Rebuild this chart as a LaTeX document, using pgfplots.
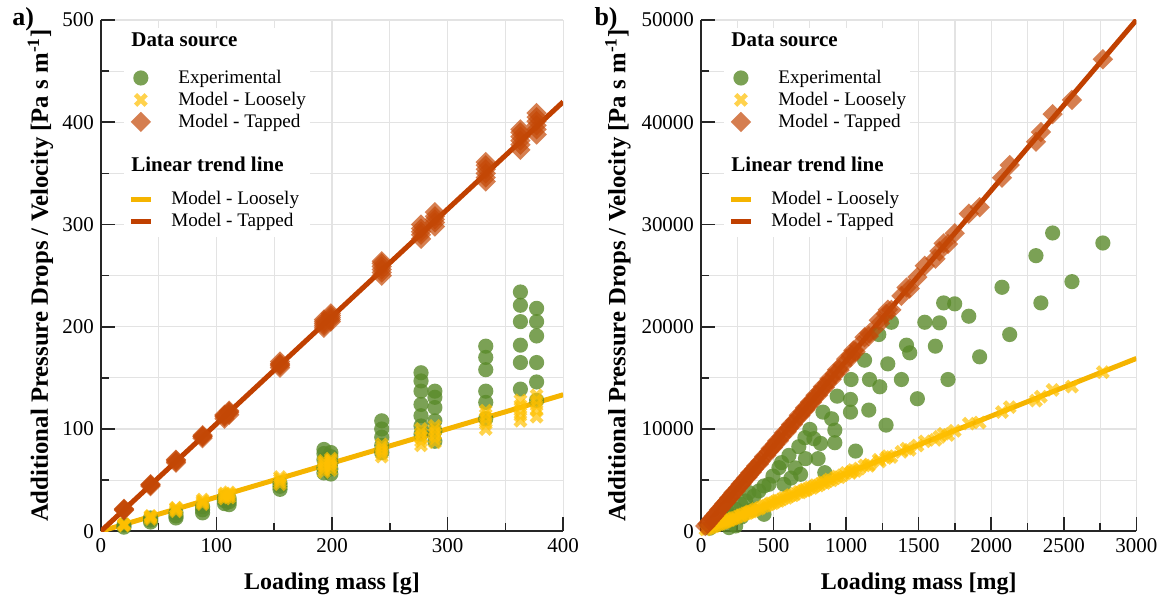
\documentclass[border=0pt]{standalone}
\usepackage{fontspec}
\setmainfont{Liberation Serif}
\usepackage{pgfplots}
\pgfplotsset{compat=1.18}

\definecolor{expgreen}{HTML}{5A8A2A}
\definecolor{loosefill}{HTML}{FFC000}
\definecolor{tapfill}{HTML}{C44806}
\definecolor{looseline}{HTML}{F5B400}
\definecolor{tapline}{HTML}{C04000}

% legend titles: the invisible path in the image sets the row height
\newcommand{\ltitle}[3]{%
  \addlegendimage{legend image code/.code={\path[draw=none,fill=none] (0pt,-#2) -- (0pt,#3);}}
  \addlegendentry{\hspace*{-23.5pt}\fontsize{10.5}{12}\selectfont\bfseries #1}}

\pgfplotsset{
  panel/.style={
    scale only axis, height=256pt,
    axis lines*=left,
    axis line style={black!85, line width=0.8pt},
    tick align=inside,
    major tick length=7pt, minor tick length=4pt,
    tick style={black!85, line width=0.8pt},
    minor tick num=1,
    grid=both,
    major grid style={gray!22, line width=0.6pt},
    minor grid style={gray!22, line width=0.6pt},
    scaled ticks=false,
    /pgf/number format/assume math mode=true,
    /pgf/number format/1000 sep={},
    xticklabel={\pgfmathprintnumber{\tick}},
    yticklabel={\pgfmathprintnumber{\tick}},
    tick label style={font=\fontsize{10.5}{12}\selectfont},
    xlabel style={font=\bfseries\fontsize{12}{14}\selectfont,
      at={(axis description cs:0.5,0)}, anchor=base, yshift=-29pt},
    ylabel style={font=\bfseries\fontsize{12.4}{14}\selectfont},
    legend cell align=left,
    legend style={draw=none, fill=white, inner sep=2pt, row sep=0pt,
      column sep=12.5pt, nodes={inner sep=0pt},
      font=\fontsize{9.6}{11}\selectfont, anchor=north west},
  },
  mkimg/.style={legend image code/.code={%
    \path[draw=none,fill=none] (5pt,-5.5pt) -- (5pt,5.5pt);
    \draw[##1] plot coordinates {(5pt,0pt)};}},
  expst/.style={only marks, mark=*, mark size=3.8pt, mkimg,
    mark options={draw=expgreen, fill=expgreen, draw opacity=0, fill opacity=0.8}},
  loosest/.style={only marks, mark=x, mark size=3.75pt, color=loosefill, mkimg,
    mark options={draw=loosefill, line width=2.3pt, draw opacity=0.7}},
  tapst/.style={only marks, mark=square*, mark size=3.6pt, mkimg,
    mark options={rotate=45, draw=tapfill, fill=tapfill, draw opacity=0, fill opacity=0.7}},
  trend/.style={no marks, line width=2.5pt,
    legend image code/.code={%
      \path[draw=none,fill=none] (0pt,-5.5pt) -- (0pt,5.5pt);
      \draw[##1] (0pt,0pt) -- (10pt,0pt);}},
}

\begin{document}
\begin{tikzpicture}
\path (-50.5pt,-35pt) rectangle (531.5pt,266pt);

% ---------------- a) loading mass in g
\begin{axis}[panel, width=231.5pt,
  xmin=0, xmax=400, ymin=0, ymax=500,
  xtick={0,100,...,400}, ytick={0,100,...,500},
  xlabel={Loading mass [g]},
  ylabel={Additional Pressure Drops / Velocity [Pa s m\textsuperscript{-1}]},
  ylabel style={at={(axis description cs:-0.1145,0.5)}, anchor=base},
  legend style={at={(rel axis cs:0.05,0.985)}}]
\ltitle{Data source}{13pt}{4.5pt}
\addplot[expst] coordinates {
 (20,4) (20,6) (43,9) (43,11) (43,13) (65,13) (65,15) (65,18)
 (88,18) (88,21) (88,24) (107,27) (107,30) (107,33) (111,26) (111,29) (111,32)
 (155,41) (155,44) (155,47)
 (193,57) (193,62) (193,70) (193,76) (193,80) (199,56) (199,61) (199,67) (199,73) (199,77)
 (243,77) (243,84) (243,92) (243,100) (243,108)
 (277,95) (277,103) (277,113) (277,124) (277,137) (277,147) (277,155)
 (289,88) (289,98) (289,108) (289,121) (289,131) (289,137)
 (333,110) (333,126) (333,137) (333,158) (333,170) (333,181)
 (363,139) (363,165) (363,182) (363,205) (363,221) (363,234)
 (377,128) (377,146) (377,165) (377,191) (377,205) (377,218)};
\addlegendentry{Experimental}
\addplot[loosest] coordinates {
 (20,5.5) (20,6.5) (20,7) (20,6) (43,12) (43,13.5) (43,14.5) (43,15)
 (65,19.5) (65,21) (65,22.5) (65,23) (88,26.5) (88,28) (88,29.5) (88,31)
 (107,32) (107,34) (107,35.5) (107,37) (111,33) (111,35) (111,36.5) (111,38)
 (155,46) (155,48.5) (155,51) (155,53)
 (193,58) (193,61) (193,64) (193,67) (193,69) (199,60) (199,63) (199,66) (199,69) (199,71)
 (243,73) (243,76) (243,79) (243,82) (243,85)
 (277,84) (277,88) (277,92) (277,96) (277,100) (289,87) (289,91) (289,95) (289,99) (289,103)
 (333,100) (333,105) (333,110) (333,114) (333,118)
 (363,108) (363,113) (363,118) (363,123) (363,128)
 (377,112) (377,118) (377,123) (377,128) (377,133)};
\addlegendentry{Model - Loosely}
\addplot[tapst] coordinates {
 (20,20.5) (20,21.5) (20,22) (20,21) (43,44) (43,45) (43,46) (43,45.5)
 (65,67) (65,68) (65,69.5) (65,70) (88,91) (88,92.5) (88,94) (88,93)
 (107,110) (107,112) (107,114) (107,113) (111,114) (111,116) (111,118) (111,117)
 (155,160) (155,162) (155,164) (155,166) (155,163)
 (193,199) (193,201) (193,203) (193,205) (193,207) (199,205) (199,207) (199,209) (199,211) (199,213)
 (243,250) (243,253) (243,256) (243,259) (243,262) (243,264)
 (277,286) (277,290) (277,293) (277,296) (277,300) (289,298) (289,302) (289,305) (289,308) (289,312)
 (333,342) (333,346) (333,350) (333,354) (333,358) (333,361)
 (363,373) (363,378) (363,382) (363,386) (363,390) (363,393)
 (377,388) (377,393) (377,397) (377,401) (377,405) (377,409)};
\addlegendentry{Model - Tapped}
\ltitle{Linear trend line}{11.5pt}{16.5pt}
\addplot[trend, looseline] coordinates {(0,0) (400,133.5)};
\addlegendentry{\hspace*{-3.5pt}Model - Loosely}
\addplot[trend, tapline] coordinates {(0,0) (400,420)};
\addlegendentry{\hspace*{-3.5pt}Model - Tapped}
\end{axis}

% ---------------- b) loading mass in mg
\begin{axis}[panel, at={(300.5pt,0pt)}, width=218pt,
  xmin=0, xmax=3000, ymin=0, ymax=50000,
  xtick={0,500,...,3000}, ytick={0,10000,...,50000},
  xlabel={Loading mass [mg]},
  ylabel={Additional Pressure Drops / Velocity [Pa s m\textsuperscript{-1}]},
  ylabel style={at={(axis description cs:-0.174,0.5)}, anchor=base},
  legend style={at={(rel axis cs:0.053,0.985)}}]
\ltitle{Data source}{13pt}{4.5pt}
\addplot[expst] coordinates {
 (60,300) (90,600) (124,680) (150,900) (170,1170) (181,1980) (193,360) (216,1490)
 (239,2150) (239,520) (273,2640) (280,1400) (308,2960) (330,3780) (350,2100) (365,3450)
 (399,3940) (434,4430) (434,1660) (468,4590) (496,5400) (537,6220) (555,6710) (571,4590)
 (606,7420) (620,5200) (650,6200) (674,8270) (686,5570) (716,9150) (720,7100) (750,9960)
 (778,9050) (807,7100) (824,8590) (840,11650) (853,5730) (900,11000) (922,9890) (922,8660)
 (938,13210) (1030,12890) (1030,11650) (1034,14840) (1065,7840) (1127,16730) (1156,11850)
 (1161,14840) (1225,19240) (1232,14130) (1275,10380) (1287,16370) (1312,20440) (1381,14840)
 (1416,18200) (1438,17450) (1491,12960) (1542,20440) (1615,18100) (1643,20380) (1672,22330)
 (1702,14840) (1748,22240) (1845,21030) (1920,17060) (2074,23860) (2127,19240) (2308,26950)
 (2342,22330) (2423,29170) (2556,24410) (2769,28190)};
\addlegendentry{Experimental}
\addplot[loosest] coordinates {
 (30,170) (45,250) (60,340) (75,428) (90,498) (105,590) (124,707) (135,748) (150,843)
 (160,912) (170,941) (181,1017) (193,1100) (200,1107) (216,1214) (225,1284) (239,1323)
 (255,1433) (273,1557) (280,1550) (290,1630) (308,1757) (320,1771) (330,1855) (340,1940)
 (350,1937) (365,2051) (380,2168) (399,2208) (410,2304) (434,2476) (450,2491) (468,2630)
 (480,2738) (496,2746) (510,2866) (525,2995) (537,2973) (555,3119) (571,3257) (590,3266)
 (606,3406) (620,3536) (635,3515) (650,3653) (674,3845) (686,3797) (700,3934) (716,4084)
 (720,3985) (735,4131) (750,4278) (765,4235) (778,4372) (790,4507) (807,4467) (824,4631)
 (840,4792) (853,4722) (870,4889) (885,5049) (900,4982) (922,5182) (938,5351) (955,5287)
 (975,5480) (1000,5704) (1030,5702) (1034,5811) (1050,5990) (1065,5895) (1090,6126)
 (1127,6429) (1156,6400) (1161,6525) (1225,6988) (1232,6820) (1275,7166) (1287,7341)
 (1312,7263) (1381,7761) (1416,8077) (1438,7960) (1491,8379) (1542,8796) (1615,8940)
 (1643,9234) (1672,9538) (1702,9421) (1748,9824) (1845,10525) (1920,10630) (2074,11656)
 (2127,12133) (2308,12776) (2342,13162) (2423,13820) (2556,14150) (2769,15560)};
\addlegendentry{Model - Loosely}
\addplot[tapst] coordinates {
 (30,510) (45,742) (60,1000) (75,1265) (90,1485) (105,1750) (124,2090) (135,2230) (150,2500)
 (160,2695) (170,2805) (181,3017) (193,3250) (200,3300) (216,3600) (225,3790) (239,3945)
 (255,4250) (273,4600) (280,4620) (290,4835) (308,5185) (320,5280) (330,5500) (340,5725)
 (350,5775) (365,6085) (380,6400) (399,6585) (410,6835) (434,7310) (450,7425) (468,7800)
 (480,8080) (496,8185) (510,8500) (525,8840) (537,8860) (555,9250) (571,9615) (590,9735)
 (606,10100) (620,10440) (635,10480) (650,10835) (674,11350) (686,11320) (700,11670)
 (716,12055) (720,11880) (735,12250) (750,12630) (765,12625) (778,12970) (790,13300)
 (807,13320) (824,13735) (840,14145) (853,14075) (870,14500) (885,14900) (900,14855)
 (922,15370) (938,15795) (955,15760) (975,16250) (1000,16835) (1030,17000) (1034,17235)
 (1050,17680) (1065,17575) (1090,18170) (1127,18975) (1156,19080) (1161,19355)
 (1225,20625) (1232,20330) (1275,21255) (1287,21670) (1312,21650) (1381,23020)
 (1416,23840) (1438,23730) (1491,24855) (1542,25960) (1615,26655) (1643,27390)
 (1672,28150) (1702,28090) (1748,29140) (1845,31060) (1920,31690) (2074,34575)
 (2127,35810) (2308,38090) (2342,39040) (2423,40795) (2556,42185) (2769,46160)};
\addlegendentry{Model - Tapped}
\ltitle{Linear trend line}{11.5pt}{16.5pt}
\addplot[trend, looseline] coordinates {(0,0) (3000,16900)};
\addlegendentry{\hspace*{-3.5pt}Model - Loosely}
\addplot[trend, tapline] coordinates {(0,0) (3000,50000)};
\addlegendentry{\hspace*{-3.5pt}Model - Tapped}
\end{axis}

\node[anchor=base west, inner sep=0pt, font=\bfseries\fontsize{13}{15}\selectfont] at (-44.5pt,253pt) {a)};
\node[anchor=base west, inner sep=0pt, font=\bfseries\fontsize{13}{15}\selectfont] at (247pt,253pt) {b)};
\end{tikzpicture}
\end{document}
